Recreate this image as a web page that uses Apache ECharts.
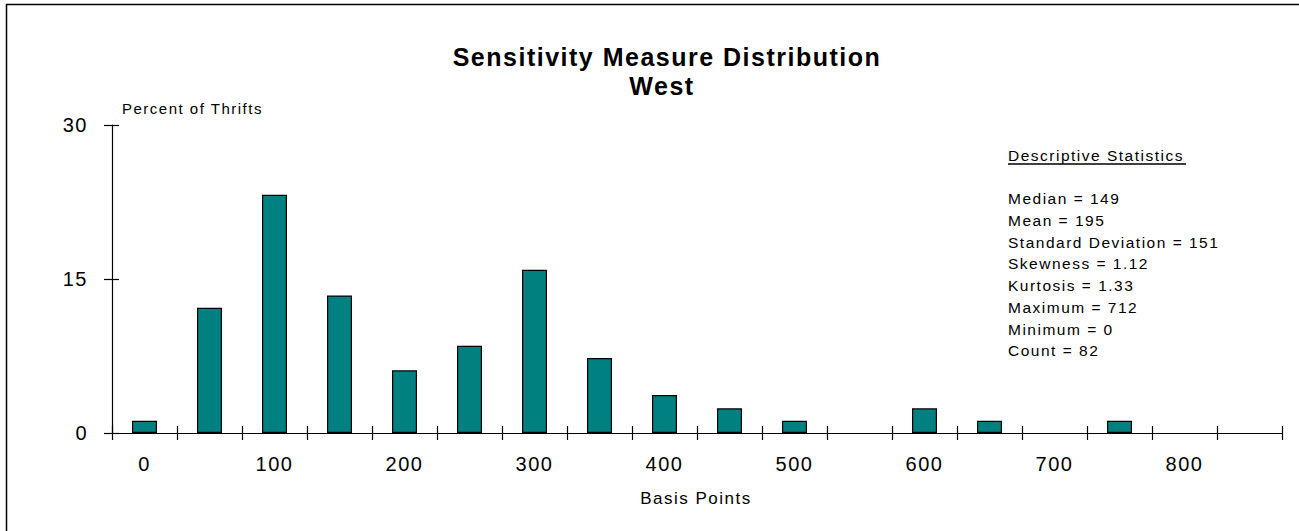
<!DOCTYPE html>
<html>
<head>
<meta charset="utf-8">
<script src="https://cdn.jsdelivr.net/npm/echarts@6/dist/echarts.min.js"></script>
<style>
  html, body { margin: 0; padding: 0; background: #fff; }
  #chart { width: 1299px; height: 531px; }
  #chart text { letter-spacing: 1.5px; }
</style>
</head>
<body>
<div id="chart"></div>
<script>
  // bins of the distribution (basis points) and percent of thrifts in each bin
  let categories = ['0', '50', '100', '150', '200', '250', '300', '350', '400',
    '450', '500', '550', '600', '650', '700', '750', '800', '850']
  let percents = [1.2, 12.2, 23.2, 13.4, 6.1, 8.5, 15.9, 7.3, 3.7,
    2.4, 1.2, 0, 2.4, 1.2, 0, 1.2, 0, 0]
  let yTicks = [0, 15, 30]
  let titleLines = ['Sensitivity Measure Distribution', 'West']
  let statsTitle = 'Descriptive Statistics'
  let statsLines = [
    'Median = 149',
    'Mean = 195',
    'Standard Deviation = 151',
    'Skewness = 1.12',
    'Kurtosis = 1.33',
    'Maximum = 712',
    'Minimum = 0',
    'Count = 82'
  ]

  let ff = '"Liberation Sans", Arial, sans-serif'
  let chart = echarts.init(document.getElementById('chart'), null, {renderer: 'svg'})

  // empty bins get no bar at all (otherwise the outline leaves a flat line)
  let barData = percents.map(v => v === 0 ? '-' : v)

  let option = {
    animation: false,
    backgroundColor: '#fff',
    grid: {left: 112, right: 17, top: 125, bottom: 98, containLabel: false},
    xAxis: [
      {
        type: 'category',
        position: 'bottom',
        data: categories,
        axisLine: {show: true, lineStyle: {color: '#000', width: 1.2}},
        axisTick: {show: true, interval: 0, length: 7, lineStyle: {color: '#000', width: 1.2}},
        axisLabel: {interval: 1, margin: 21, color: '#000', fontSize: 20, fontFamily: ff},
        splitLine: {show: false}
      },
      {
        // second axis only for the inner half of the crossing ticks
        type: 'category',
        position: 'bottom',
        data: categories,
        axisLine: {show: false},
        axisTick: {show: true, inside: true, interval: 0, length: 7, lineStyle: {color: '#000', width: 1.2}},
        axisLabel: {show: false},
        splitLine: {show: false}
      }
    ],
    yAxis: [
      {
        type: 'value',
        position: 'left',
        min: yTicks[0],
        max: yTicks[yTicks.length - 1],
        interval: 15,
        axisLine: {show: true, lineStyle: {color: '#000', width: 1.2}},
        axisTick: {show: true, length: 8, lineStyle: {color: '#000', width: 1.2}},
        axisLabel: {margin: 24, color: '#000', fontSize: 20, fontFamily: ff},
        splitLine: {show: false}
      },
      {
        type: 'value',
        position: 'left',
        min: yTicks[0],
        max: yTicks[yTicks.length - 1],
        interval: 15,
        axisLine: {show: false},
        axisTick: {show: true, inside: true, length: 7, lineStyle: {color: '#000', width: 1.2}},
        axisLabel: {show: false},
        splitLine: {show: false}
      }
    ],
    series: [{
      type: 'bar',
      data: barData,
      barWidth: 25,
      itemStyle: {color: '#008080', borderColor: '#000', borderWidth: 1.2}
    }],
    graphic: [
      {
        type: 'line', silent: true,
        shape: {x1: 6, y1: 4.5, x2: 1299, y2: 4.5},
        style: {stroke: '#000', lineWidth: 1.5}
      },
      {
        type: 'line', silent: true,
        shape: {x1: 6.5, y1: 4, x2: 6.5, y2: 531},
        style: {stroke: '#000', lineWidth: 1.5}
      },
      {
        type: 'text', x: 667, y: 57,
        style: {text: titleLines[0], fill: '#000', font: 'bold 25px ' + ff, textAlign: 'center', textVerticalAlign: 'middle'}
      },
      {
        type: 'text', x: 662, y: 86,
        style: {text: titleLines[1], fill: '#000', font: 'bold 25px ' + ff, textAlign: 'center', textVerticalAlign: 'middle'}
      },
      {
        type: 'text', x: 122, y: 108,
        style: {text: 'Percent of Thrifts', fill: '#000', font: '15px ' + ff, textAlign: 'left', textVerticalAlign: 'middle'}
      },
      {
        type: 'text', x: 696, y: 498,
        style: {text: 'Basis Points', fill: '#000', font: '17px ' + ff, textAlign: 'center', textVerticalAlign: 'middle'}
      },
      {
        type: 'text', x: 1008, y: 155,
        style: {text: statsTitle, fill: '#000', font: '15.5px ' + ff, textAlign: 'left', textVerticalAlign: 'middle'}
      },
      {
        type: 'line', silent: true,
        shape: {x1: 1008, y1: 164, x2: 1186, y2: 164},
        style: {stroke: '#000', lineWidth: 1.4}
      },
      {
        type: 'text', x: 1008, y: 188,
        style: {text: statsLines.join('\n'), fill: '#000', font: '15.5px ' + ff, lineHeight: 21.7, textAlign: 'left', textVerticalAlign: 'top'}
      }
    ]
  }
  chart.setOption(option)
</script>
</body>
</html>
